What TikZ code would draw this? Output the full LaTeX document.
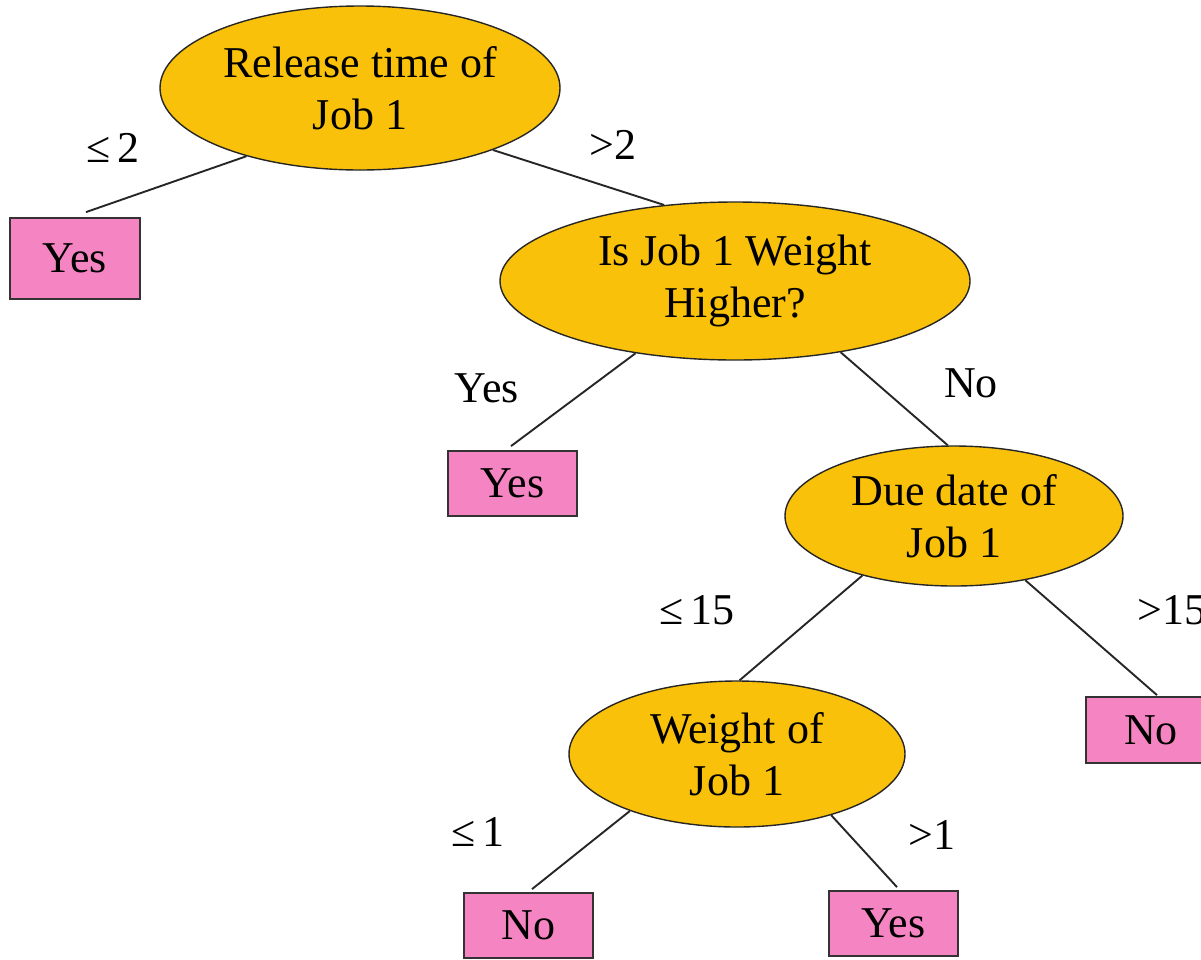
\documentclass[tikz,border=0pt]{standalone}
\usepackage{fontspec}
\setmainfont{Liberation Serif}
\usetikzlibrary{shapes.geometric,calc}
\definecolor{qyellow}{RGB}{250,193,10}
\definecolor{leafpink}{RGB}{245,132,194}
\tikzset{
  qnode/.style={ellipse,draw=black!85,line width=1.4pt,fill=qyellow,inner sep=0pt,
    align=center,font=\fontsize{44}{52}\selectfont},
  leaf/.style={rectangle,draw=black!80,line width=1.8pt,fill=leafpink,inner sep=0pt,
    minimum width=130pt,minimum height=66pt,font=\fontsize{44}{52}\selectfont},
  edgelbl/.style={font=\fontsize{44}{52}\selectfont,inner sep=0pt},
  conn/.style={draw=black!85,line width=1.9pt}
}
\begin{document}
\begin{tikzpicture}[x=1pt,y=-1pt]
\useasboundingbox (0,0) rectangle (1201,959);
\clip (0,0) rectangle (1201,959);
% question nodes
\node[qnode,minimum width=400pt,minimum height=164pt] (root) at (360,88) {Release time of\\Job 1};
\node[qnode,minimum width=470pt,minimum height=158pt] (wt) at (735,281) {Is Job 1 Weight\\Higher?};
\node[qnode,minimum width=338pt,minimum height=140pt] (due) at (954,516) {Due date of\\Job 1};
\node[qnode,minimum width=336pt,minimum height=146pt] (w1) at (737,754) {Weight of\\Job 1};
% leaves
\node[leaf,minimum height=81pt] (yes1) at (75,258.5) {Yes};
\node[leaf,minimum width=129pt,minimum height=65pt] (yes2) at (512.5,483.5) {Yes};
\node[leaf] (no2) at (1151,730) {No};
\node[leaf,minimum width=129pt,minimum height=65pt] (no3) at (528.5,925.5) {No};
\node[leaf,minimum width=129pt,minimum height=65pt] (yes3) at (893.5,923.5) {Yes};
% connectors
\draw[conn] (root.211.3) -- ($(yes1.north)+(11,-5)$);
\draw[conn] (root.335.3) -- (wt.133.9);
\draw[conn] (wt.216.4) -- ($(yes2.north)+(-1.5,-4)$);
\draw[conn] (wt.326.2) -- (due.95);
\draw[conn] (due.213.4) -- (w1.88);
\draw[conn] (due.318.3) -- ($(no2.north)+(6,-1)$);
\draw[conn] (w1.208.7) -- ($(no3.north)+(3.5,-3)$);
\draw[conn] (w1.327.2) -- ($(yes3.north)+(3.5,-3)$);
% edge labels
\node[edgelbl] (l1) at (113,148) {≤\,2};
\node[edgelbl] (l2) at (613,145) {>2};
\node[edgelbl] (l3) at (487,388) {Yes};
\node[edgelbl] (l4) at (971,383) {No};
\node[edgelbl] (l5) at (697,610) {≤\,15};
\node[edgelbl,anchor=west] (l6) at (1137,610) {>15};
\node[edgelbl] (l7) at (478,832) {≤\,1};
\node[edgelbl] (l8) at (932,835) {>1};
\end{tikzpicture}
\end{document}
